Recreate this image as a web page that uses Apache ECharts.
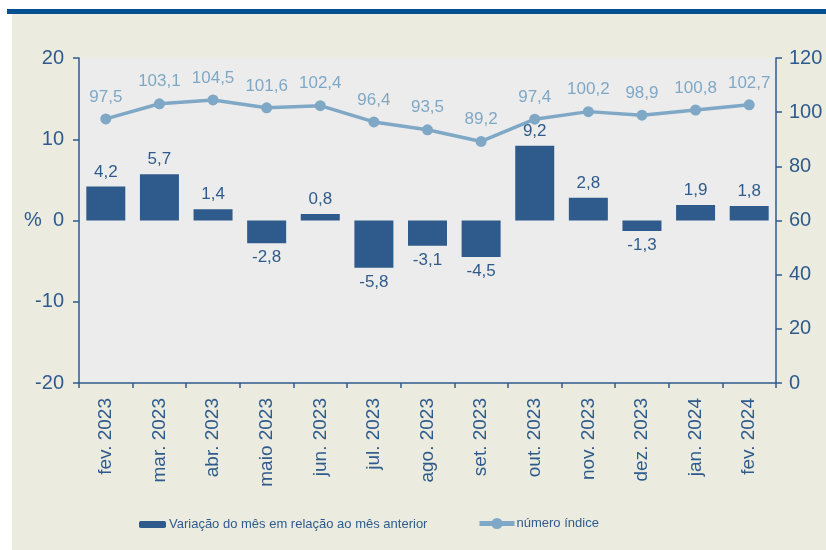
<!DOCTYPE html>
<html>
<head>
<meta charset="utf-8">
<script src="https://cdn.jsdelivr.net/npm/echarts@6/dist/echarts.min.js"></script>
<style>
  html, body { margin: 0; padding: 0; background: #fff; }
  #bg { position: absolute; left: 12px; top: 14px; width: 814px; height: 536px; background: #ebebdf; }
  #band { position: absolute; left: 7px; top: 9px; width: 819px; height: 5px; background: #02508f; }
  #chart { position: absolute; left: 0; top: 0; width: 826px; height: 550px; }
</style>
</head>
<body>
<div id="bg"></div>
<div id="band"></div>
<div id="chart"></div>
<script>
const months = ['fev. 2023', 'mar. 2023', 'abr. 2023', 'maio 2023', 'jun. 2023', 'jul. 2023', 'ago. 2023',
  'set. 2023', 'out. 2023', 'nov. 2023', 'dez. 2023', 'jan. 2024', 'fev. 2024']
const variacao = [4.2, 5.7, 1.4, -2.8, 0.8, -5.8, -3.1, -4.5, 9.2, 2.8, -1.3, 1.9, 1.8]
const indice = [97.5, 103.1, 104.5, 101.6, 102.4, 96.4, 93.5, 89.2, 97.4, 100.2, 98.9, 100.8, 102.7]

const barName = 'Variação do mês em relação ao mês anterior'
const lineName = 'número índice'

const dark = '#2f5b8c'
const light = '#7fa8c6'
const font = 'Liberation Sans'

const fmt = v => v.toFixed(1).replace('.', ',')

// negative bars get their label under the bar
const barData = variacao.map(v => ({
  value: v,
  label: { position: v < 0 ? 'bottom' : 'top' }
}))

const chart = echarts.init(document.getElementById('chart'))
chart.setOption({
  backgroundColor: 'transparent',
  textStyle: { fontFamily: font },
  grid: {
    left: 79, right: 50, top: 58, bottom: 167,
    show: true, backgroundColor: '#ececec', borderWidth: 0
  },
  legend: [{
    data: [barName],
    left: 134, top: 513,
    itemWidth: 27, itemHeight: 7,
    textStyle: { color: dark, fontSize: 13, fontFamily: font, padding: [0, 0, 0, -2] }
  }, {
    data: [lineName],
    left: 472, top: 512,
    itemWidth: 35, itemHeight: 14,
    lineStyle: { width: 5 },
    textStyle: { color: dark, fontSize: 13, fontFamily: font, padding: [0, 0, 0, -3] }
  }],
  xAxis: {
    type: 'category',
    data: months,
    axisLine: { onZero: false, lineStyle: { color: dark, width: 1.5 } },
    axisTick: { show: true, length: 5, lineStyle: { color: dark, width: 1.5 } },
    axisLabel: { rotate: 90, margin: 15, color: dark, fontSize: 19, fontFamily: font }
  },
  yAxis: [{
    type: 'value',
    min: -20, max: 20, interval: 10,
    name: '%',
    nameLocation: 'middle',
    nameRotate: 0,
    nameGap: 46,
    nameMoveOverlap: false,
    nameTextStyle: { color: dark, fontSize: 20, fontFamily: font, align: 'center' },
    axisLine: { show: true, lineStyle: { color: dark, width: 1.5 } },
    axisTick: { show: true, length: 6, lineStyle: { color: dark, width: 1.5 } },
    axisLabel: { color: dark, fontSize: 20, margin: 15, fontFamily: font },
    splitLine: { show: false }
  }, {
    type: 'value',
    min: 0, max: 120, interval: 20,
    position: 'right',
    axisLine: { show: true, lineStyle: { color: dark, width: 1.5 } },
    axisTick: { show: true, length: 6, lineStyle: { color: dark, width: 1.5 } },
    axisLabel: { color: dark, fontSize: 20, margin: 13, fontFamily: font },
    splitLine: { show: false }
  }],
  series: [{
    name: barName,
    type: 'bar',
    data: barData,
    barWidth: 39,
    itemStyle: { color: dark },
    label: {
      show: true,
      distance: 6,
      color: dark,
      fontSize: 17,
      fontFamily: font,
      formatter: p => fmt(p.value)
    }
  }, {
    name: lineName,
    type: 'line',
    yAxisIndex: 1,
    data: indice,
    symbol: 'circle',
    symbolSize: 11,
    lineStyle: { color: light, width: 3.5 },
    itemStyle: { color: light },
    label: {
      show: true,
      position: 'top',
      distance: 8,
      color: light,
      fontSize: 17,
      fontFamily: font,
      formatter: p => fmt(p.value)
    }
  }]
})
</script>
</body>
</html>
